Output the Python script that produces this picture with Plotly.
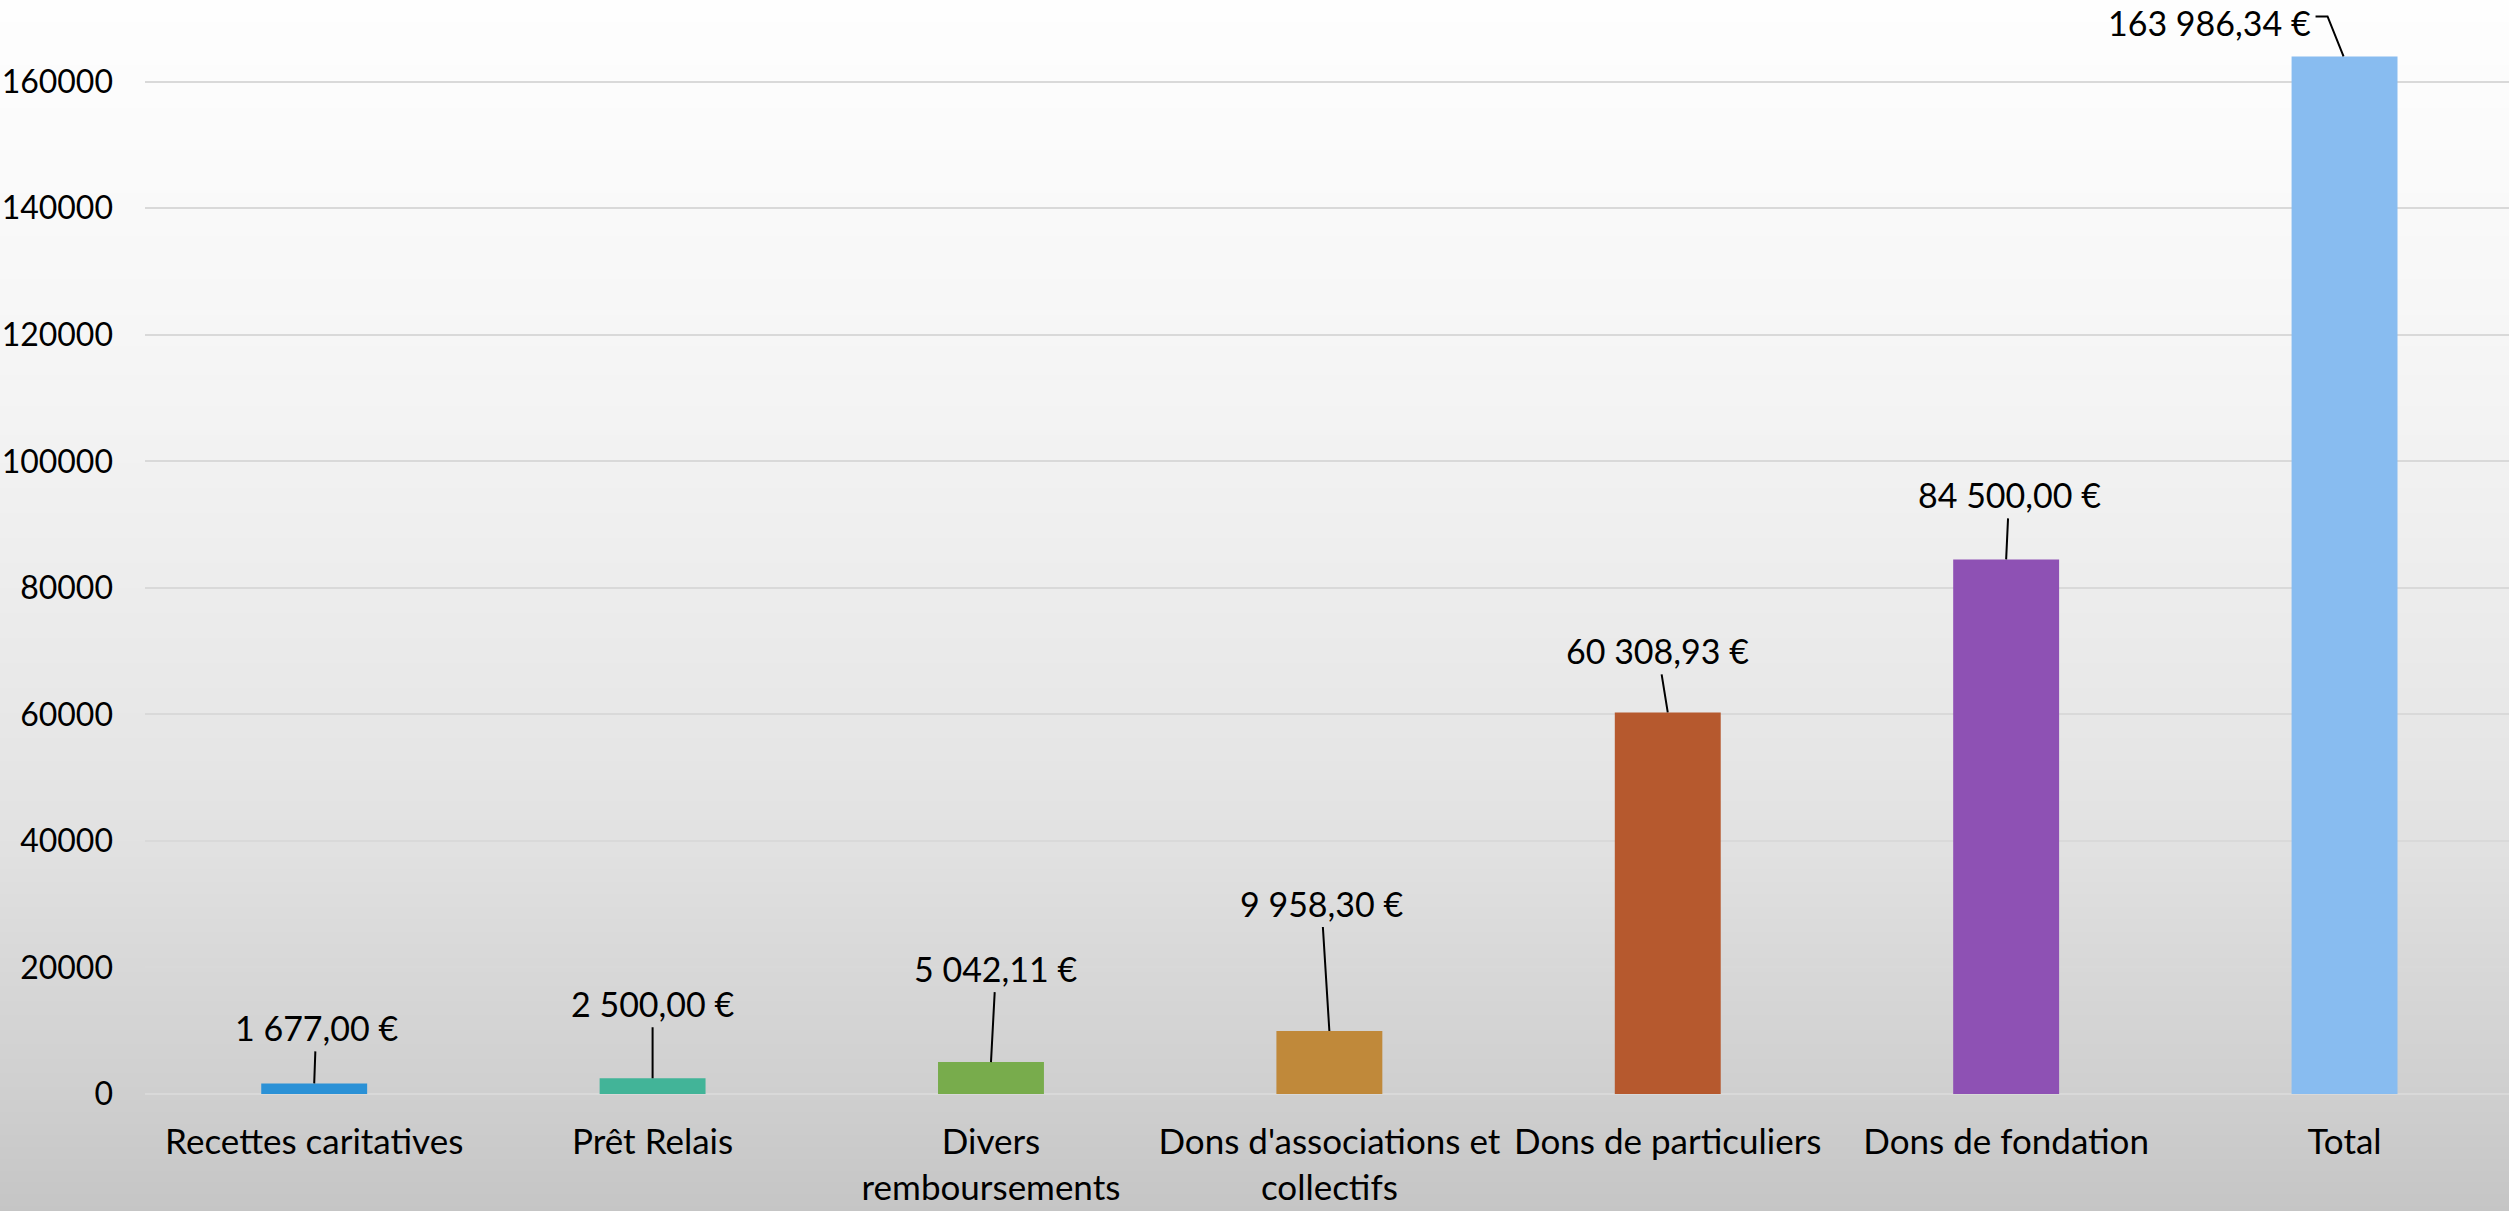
import struct, zlib, base64
import plotly.graph_objects as go

# ---- data ----
categories = ["Recettes caritatives", "Prêt Relais", "Divers remboursements",
              "Dons d'associations et collectifs", "Dons de particuliers",
              "Dons de fondation", "Total"]
tick_labels = ["Recettes caritatives", "Prêt Relais", "Divers<br>remboursements",
               "Dons d'associations et<br>collectifs", "Dons de particuliers",
               "Dons de fondation", "Total"]
values = [1677.00, 2500.00, 5042.11, 9958.30, 60308.93, 84500.00, 163986.34]
value_labels = ["1 677,00 €", "2 500,00 €", "5 042,11 €", "9 958,30 €",
                "60 308,93 €", "84 500,00 €", "163 986,34 €"]
y_ticks = [0, 20000, 40000, 60000, 80000, 100000, 120000, 140000, 160000]

# ---- style ----
bar_colors = ["#2B91D6", "#42B498", "#78AC4C", "#C0893A", "#B6592E", "#8E51B4", "#88BCF0"]
label_offsets = [(2, -56), (0, -75), (5, -94), (-8, -128), (-10, -62), (3, -65), (-135, 34)]
FONT = "Lato"
FS_X = 35
FS_Y = 32
FS_L = 34

W, H = 2509, 1211
ML, MR, MT, MB = 145, 0, 0, 117
PW, PH = W - ML - MR, H - MT - MB


def gradient_png(h):
    stops = [(0, 254), (300, 247), (450, 242), (600, 236), (750, 230),
             (850, 225), (950, 217), (1094, 207), (1211, 197)]
    vals = []
    for y in range(h):
        for (y0, v0), (y1, v1) in zip(stops[:-1], stops[1:]):
            if y0 <= y <= y1:
                t = (y - y0) / (y1 - y0)
                vals.append(int(round(v0 + (v1 - v0) * t)))
                break
        else:
            vals.append(stops[-1][1])
    raw = b"".join(b"\x00" + bytes([v]) for v in vals)

    def chunk(t, d):
        return struct.pack(">I", len(d)) + t + d + struct.pack(">I", zlib.crc32(t + d) & 0xffffffff)

    ihdr = struct.pack(">IIBBBBB", 1, h, 8, 0, 0, 0, 0)
    png = b"\x89PNG\r\n\x1a\n" + chunk(b"IHDR", ihdr) + chunk(b"IDAT", zlib.compress(raw)) + chunk(b"IEND", b"")
    return "data:image/png;base64," + base64.b64encode(png).decode()


fig = go.Figure(go.Bar(
    x=categories, y=values, marker_color=bar_colors, marker_line_width=0,
    hoverinfo="x+y",
))

for i, (c, v, lab) in enumerate(zip(categories, values, value_labels)):
    ax, ay = label_offsets[i]
    is_total = (i == len(categories) - 1)
    if not is_total:
        fig.add_annotation(
            x=c, y=v, text=lab, showarrow=True, arrowhead=0, arrowwidth=2,
            arrowcolor="#000000", ax=ax, ay=ay, standoff=0, startstandoff=2,
            font=dict(family=FONT, size=FS_L, color="#000000"),
        )
    else:
        fig.add_annotation(
            x=c, y=v, text=lab, showarrow=False, xshift=ax, yshift=ay,
            font=dict(family=FONT, size=FS_L, color="#000000"),
        )
        fig.add_shape(type="path", xref="x", yref="y", xsizemode="pixel", ysizemode="pixel",
                      xanchor=c, yanchor=v, path="M -29,40 L -17,40 L -1,0",
                      line=dict(color="#000000", width=2))

fig.add_layout_image(
    source=gradient_png(H), xref="paper", yref="paper",
    x=-ML / PW, y=1 + MT / PH, sizex=W / PW, sizey=H / PH,
    xanchor="left", yanchor="top", sizing="stretch", layer="below",
)

fig.update_layout(
    width=W, height=H,
    margin=dict(l=ML, r=MR, t=MT, b=MB, pad=0, autoexpand=False),
    paper_bgcolor="rgba(0,0,0,0)", plot_bgcolor="rgba(0,0,0,0)",
    bargap=0.687, showlegend=False,
    font=dict(family=FONT, size=FS_X, color="#000000"),
)
fig.update_xaxes(
    type="category", tickvals=categories, ticktext=tick_labels,
    range=[-0.5, 6.486], showgrid=False, showline=False, ticks="",
    tickfont=dict(family=FONT, size=FS_X, color="#000000"),
    ticklabelstandoff=24, automargin=False,
)
fig.update_yaxes(
    range=[0, 172913], tickvals=y_ticks, tickformat="d",
    showgrid=True, gridcolor="#D9D9D9", gridwidth=2,
    zeroline=True, zerolinecolor="#D9D9D9", zerolinewidth=2,
    showline=False, ticks="", ticklabelstandoff=31, automargin=False,
    tickfont=dict(family=FONT, size=FS_Y, color="#000000"),
)

fig.write_html("out.html", config={"displayModeBar": False},
               post_script="document.body.style.margin='0';document.body.style.overflow='hidden';")
